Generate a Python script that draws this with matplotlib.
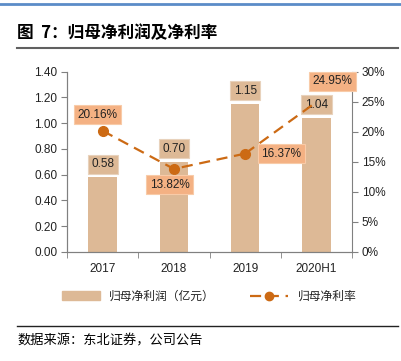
import matplotlib.pyplot as plt
from matplotlib.lines import Line2D
from matplotlib.patches import Patch

plt.rcParams['font.family'] = ['Liberation Sans', 'Noto Sans CJK SC', 'DejaVu Sans']

years = ['2017', '2018', '2019', '2020H1']
profit = [0.58, 0.70, 1.15, 1.04]          # 归母净利润（亿元）
margin = [20.16, 13.82, 16.37, 24.95]      # 归母净利率 %
profit_labels = ['0.58', '0.70', '1.15', '1.04']
margin_labels = ['20.16%', '13.82%', '16.37%', '24.95%']

bar_c = '#DDB996'
line_c = '#CC6A14'
box_c = '#F4B183'
grey = '#808080'

fig = plt.figure(figsize=(4.02, 3.61), dpi=100)
ax = fig.add_axes([0.1667, 0.302, 0.709, 0.4994])
ax2 = ax.twinx()

x = list(range(len(years)))
ax.bar(x, profit, width=0.4, color=bar_c, zorder=2)
ax.set_ylim(0, 1.4)
ax.set_yticks([i * 0.2 for i in range(8)])
ax.set_yticklabels(['%.2f' % (i * 0.2) for i in range(8)])
ax.set_xlim(-0.5, 3.5)
ax.set_xticks(x)
ax.set_xticklabels(years)
ax.set_xticks([-0.5, 0.5, 1.5, 2.5, 3.5], minor=True)
ax.tick_params(axis='x', which='major', length=0, pad=8, labelsize=8.5, colors='#222222')
ax.tick_params(axis='x', which='minor', length=4, color=grey)
ax.tick_params(axis='y', length=4, color=grey, labelsize=8.5, labelcolor='#222222', pad=3)

ax2.plot(x[:3], margin[:3], color=line_c, lw=1.6, ls=(0, (5, 3)), marker='o', ms=7, zorder=3)
ax2.plot(x[2:], margin[2:], color=line_c, lw=1.6, ls=(0, (5, 3)), zorder=3)
ax2.set_ylim(0, 30)
ax2.set_yticks(range(0, 31, 5))
ax2.set_yticklabels(['%d%%' % v for v in range(0, 31, 5)])
ax2.tick_params(axis='y', length=4, color=grey, labelsize=8.5, labelcolor='#222222', pad=3)

for a in (ax, ax2):
    a.spines['top'].set_visible(False)
    for s in ('left', 'right', 'bottom'):
        a.spines[s].set_color(grey)
ax.spines['right'].set_visible(False)

# bar value labels
for i, (v, t) in enumerate(zip(profit, profit_labels)):
    ax.annotate(t, (i, v), xytext=(0, 9.5), textcoords='offset points',
                ha='center', va='center', fontsize=8.5, color='#222222', zorder=5,
                bbox=dict(boxstyle='square,pad=0.3', fc=bar_c, ec='#E8D2BC', lw=0.8))

# margin labels
offs = [(-3.6, 11.5), (-3, -11.5), (26, 0), (11.5, 15)]
for i, (v, t) in enumerate(zip(margin, margin_labels)):
    ax2.annotate(t, (i, v), xytext=offs[i], textcoords='offset points',
                 ha='center', va='center', fontsize=8.5, color='#222222', zorder=6,
                 bbox=dict(boxstyle='square,pad=0.3', fc=box_c, ec='#F8CBA8', lw=0.8))
ax2.set_zorder(ax.get_zorder() + 1)
ax2.patch.set_visible(False)

handles = [Patch(color=bar_c),
           Line2D([], [], color=line_c, lw=1.6, ls=(0, (5, 3)), marker='o', ms=6)]
fig.legend(handles, ['归母净利润（亿元）', '归母净利率'], loc='center',
           bbox_to_anchor=(0.52, 0.178), ncol=2, frameon=False, fontsize=8.5,
           handlelength=3.2, columnspacing=3, labelcolor='#222222')

# header / footer decorations
fig.add_artist(Line2D([0, 1], [1 - 4 / 361] * 2, color='#5B8CC8', lw=2))
fig.text(17 / 402, 1 - 33 / 361, '图  7：归母净利润及净利率', fontsize=12,
         fontweight='bold', va='center', ha='left', family=['Noto Sans CJK SC'])
fig.add_artist(Line2D([17 / 402, 398 / 402], [1 - 48 / 361] * 2, color='#606060', lw=1.5))
fig.add_artist(Line2D([17 / 402, 398 / 402], [1 - 326 / 361] * 2, color='#222222', lw=1))
fig.text(17 / 402, 1 - 341 / 361, '数据来源：东北证券，公司公告', fontsize=9.5,
         va='center', ha='left', family=['Noto Sans CJK SC'])

fig.savefig('out.png', dpi=100)
